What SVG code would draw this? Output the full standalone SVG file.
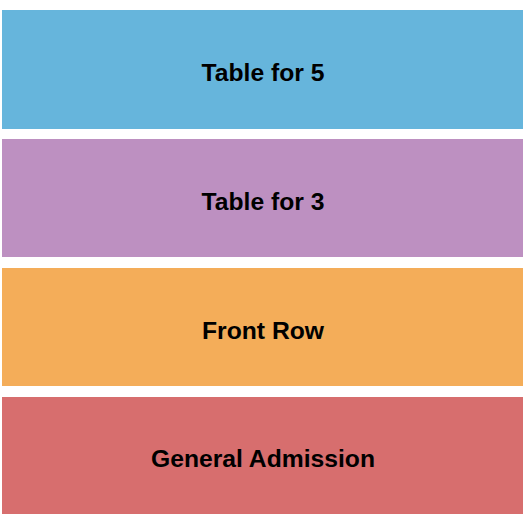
<svg xmlns="http://www.w3.org/2000/svg" width="525" height="525" viewBox="0 0 525 525">
<style>
.lbl{font-family:"Liberation Sans",Arial,sans-serif;font-weight:bold;font-size:24.7px;fill:#000;text-anchor:middle}
</style>
<rect width="525" height="525" fill="#fff"/>
<g id="table5"><rect x="2" y="10" width="521" height="119" fill="#66b5dc"/><text class="lbl" x="263" y="81">Table for 5</text></g>
<g id="table3"><rect x="2" y="139" width="521" height="118" fill="#bd90c1"/><text class="lbl" x="263" y="210">Table for 3</text></g>
<g id="frontrow"><rect x="2" y="268" width="521" height="118" fill="#f4ad59"/><text class="lbl" x="263" y="339">Front Row</text></g>
<g id="ga"><rect x="2" y="397" width="521" height="117" fill="#d76e6e"/><text class="lbl" x="263" y="467">General Admission</text></g>
<g id="connectors"></g>
</svg>
